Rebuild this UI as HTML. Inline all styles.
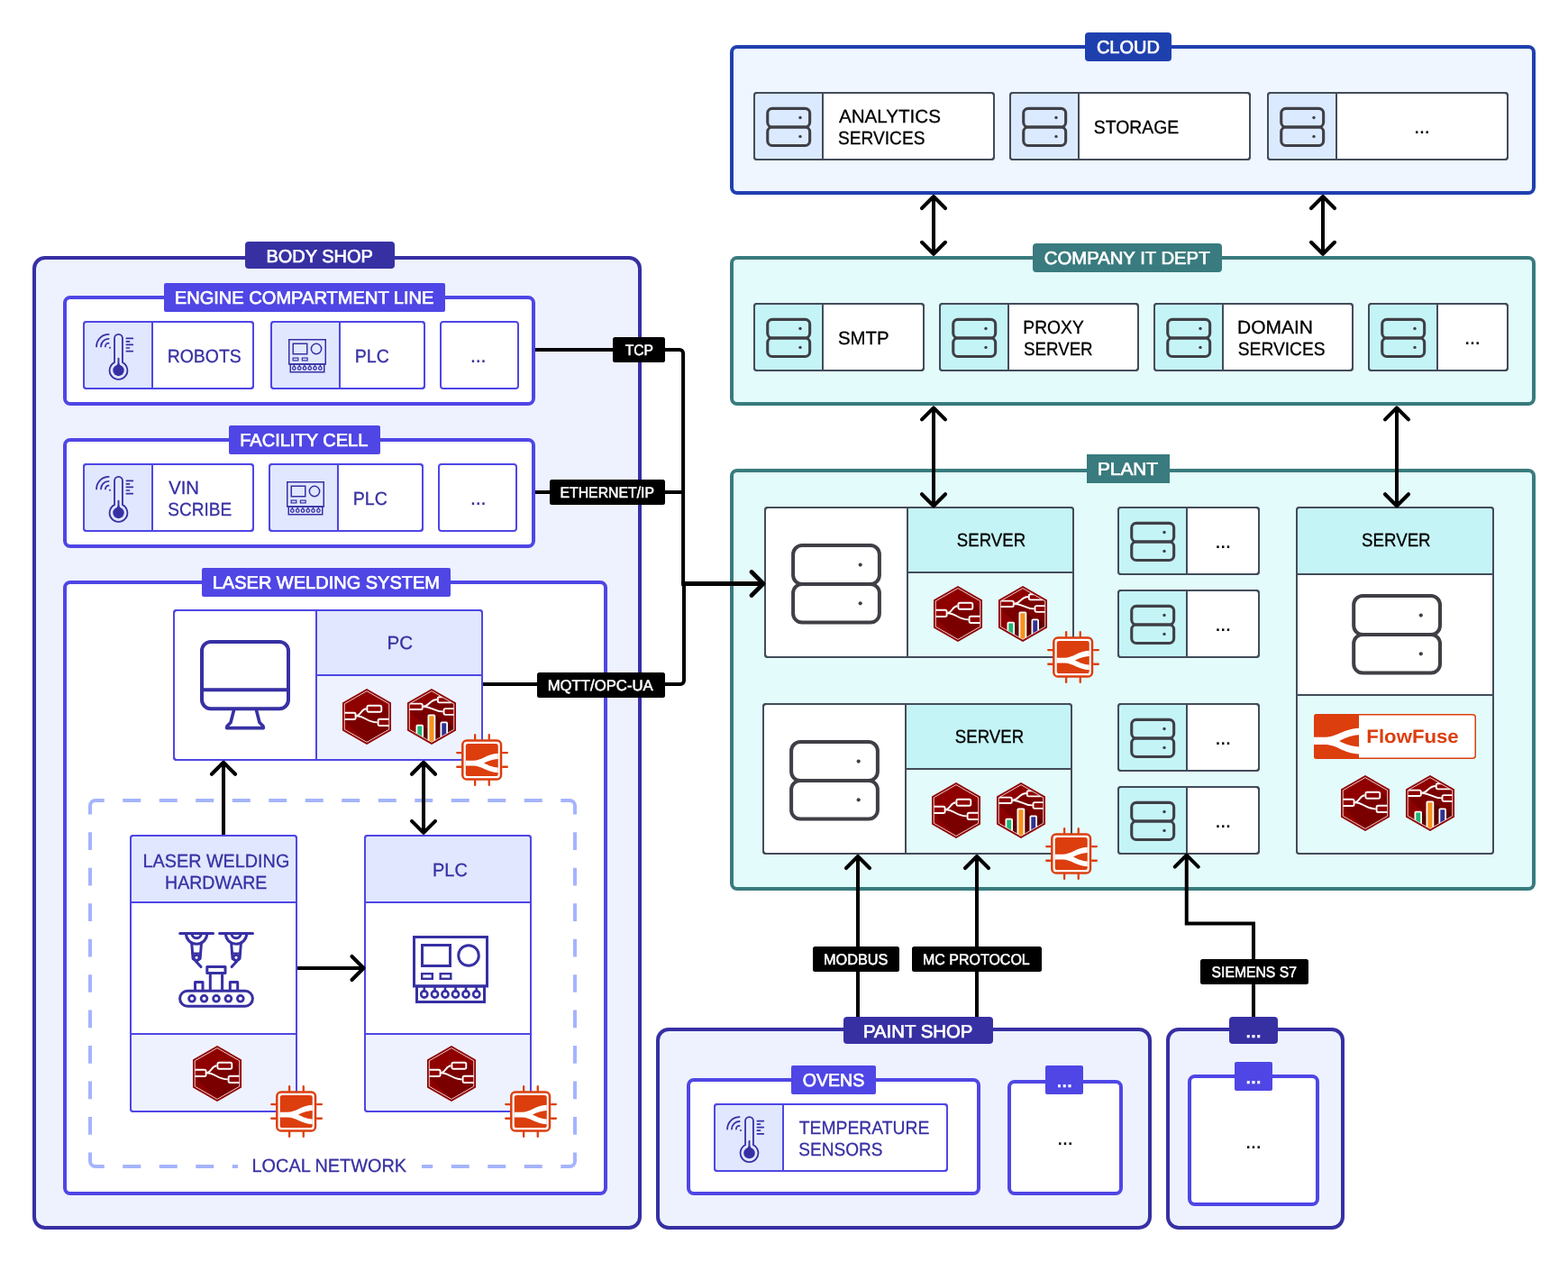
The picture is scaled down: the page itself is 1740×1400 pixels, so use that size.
<!DOCTYPE html>
<html lang="en"><head><meta charset="utf-8"><title>Factory network architecture</title>
<style>
html,body{margin:0;padding:0;background:#fff;}
body{width:1740px;height:1400px;overflow:hidden;}
svg{display:block;font-family:"Liberation Sans",sans-serif;will-change:transform;text-rendering:geometricPrecision;}
text{white-space:pre;}
</style></head><body>
<svg width="1740" height="1400" viewBox="0 0 1740 1400">
<clipPath id="hc"><polygon points="0,-28.2 24.57,-14.1 24.57,14.1 0,28.2 -24.57,14.1 -24.57,-14.1"/></clipPath>
<rect x="38" y="286" width="672" height="1076" rx="12" fill="#eef2ff" stroke="#3730a3" stroke-width="4"/>
<rect x="72" y="330" width="520" height="118" rx="6" fill="#fff" stroke="#4f46e5" stroke-width="4"/>
<rect x="93" y="357" width="188" height="74" rx="3" fill="#fff" stroke="#4f46e5" stroke-width="2"/><path d="M93,360 a3,3 0 0 1 3,-3 H169 V431 H96 a3,3 0 0 1 -3,-3 Z" fill="#e0e7ff"/><path d="M169,357 V431" stroke="#4f46e5" stroke-width="2"/><rect x="93" y="357" width="188" height="74" rx="3" fill="none" stroke="#4f46e5" stroke-width="2"/><path d="M127.05,402.11 V375.35 a4.45,4.45 0 0 1 8.9,0 V402.11 A9.9,9.9 0 1 1 127.05,402.11 Z" fill="none" stroke="#3730a3" stroke-width="1.8" stroke-linejoin="round"/><circle cx="131.5" cy="410.95" r="6.2" fill="#3730a3"/><path d="M131.5,397.8 V410.95" stroke="#3730a3" stroke-width="1.9" stroke-linecap="round"/><path d="M128.3,406.35 Q131.5,403.95 131.5,398.95 Q131.5,403.95 134.7,406.35 Z" fill="#3730a3"/><path d="M140.4,375.4 H147.3" stroke="#3730a3" stroke-width="1.7" stroke-linecap="round"/><path d="M140.4,378.9 H143.5" stroke="#3730a3" stroke-width="1.7" stroke-linecap="round"/><path d="M140.4,382.4 H147.3" stroke="#3730a3" stroke-width="1.7" stroke-linecap="round"/><path d="M140.4,386 H143.5" stroke="#3730a3" stroke-width="1.7" stroke-linecap="round"/><path d="M140.4,389.6 H147.3" stroke="#3730a3" stroke-width="1.7" stroke-linecap="round"/><path d="M107.1,384.4 A13.5,13.5 0 0 1 120.6,370.9" fill="none" stroke="#3730a3" stroke-width="1.8" stroke-linecap="round"/><path d="M112,384.4 A8.6,8.6 0 0 1 120.6,375.8" fill="none" stroke="#3730a3" stroke-width="1.8" stroke-linecap="round"/><path d="M116.9,384.4 A3.7,3.7 0 0 1 120.6,380.7" fill="none" stroke="#3730a3" stroke-width="1.8" stroke-linecap="round"/><circle cx="122" cy="385.8" r="1" fill="#3730a3"/>
<text x="185.69" y="402" font-size="20.58" textLength="82.17" lengthAdjust="spacingAndGlyphs" fill="#3730a3" stroke="#3730a3" stroke-width="0.3">ROBOTS</text>
<rect x="301" y="357" width="170" height="74" rx="3" fill="#fff" stroke="#4f46e5" stroke-width="2"/><path d="M301,360 a3,3 0 0 1 3,-3 H377 V431 H304 a3,3 0 0 1 -3,-3 Z" fill="#e0e7ff"/><path d="M377,357 V431" stroke="#4f46e5" stroke-width="2"/><rect x="301" y="357" width="170" height="74" rx="3" fill="none" stroke="#4f46e5" stroke-width="2"/><g transform="translate(320,376) scale(0.5)" fill="none" stroke="#3730a3" stroke-width="3.0"><rect x="1.5" y="1.5" width="81" height="54.5"/><rect x="10.5" y="10.5" width="31" height="23"/><circle cx="62" cy="22" r="11.3"/><rect x="10.2" y="42.2" width="11.6" height="5.6" stroke-width="2.4"/><rect x="30.7" y="42.2" width="11.6" height="5.6" stroke-width="2.4"/><rect x="4.5" y="56" width="75" height="17.5"/><circle cx="12.75" cy="65" r="3.6" stroke-width="2.6"/><path d="M12.75,57 V61.5" stroke-width="2.6"/><circle cx="24.5" cy="65" r="3.6" stroke-width="2.6"/><path d="M24.5,57 V61.5" stroke-width="2.6"/><circle cx="36" cy="65" r="3.6" stroke-width="2.6"/><path d="M36,57 V61.5" stroke-width="2.6"/><circle cx="47.5" cy="65" r="3.6" stroke-width="2.6"/><path d="M47.5,57 V61.5" stroke-width="2.6"/><circle cx="59" cy="65" r="3.6" stroke-width="2.6"/><path d="M59,57 V61.5" stroke-width="2.6"/><circle cx="70.75" cy="65" r="3.6" stroke-width="2.6"/><path d="M70.75,57 V61.5" stroke-width="2.6"/></g>
<text x="393.68" y="402" font-size="20.58" textLength="38.2" lengthAdjust="spacingAndGlyphs" fill="#3730a3" stroke="#3730a3" stroke-width="0.3">PLC</text>
<rect x="489" y="357" width="86" height="74" rx="3" fill="#fff" stroke="#4f46e5" stroke-width="2"/>
<text x="521.5" y="402" font-size="25" letter-spacing="-1.25" fill="#3730a3">...</text>
<rect x="72" y="488" width="520" height="118" rx="6" fill="#fff" stroke="#4f46e5" stroke-width="4"/>
<rect x="93" y="515" width="188" height="74" rx="3" fill="#fff" stroke="#4f46e5" stroke-width="2"/><path d="M93,518 a3,3 0 0 1 3,-3 H169 V589 H96 a3,3 0 0 1 -3,-3 Z" fill="#e0e7ff"/><path d="M169,515 V589" stroke="#4f46e5" stroke-width="2"/><rect x="93" y="515" width="188" height="74" rx="3" fill="none" stroke="#4f46e5" stroke-width="2"/><path d="M127.05,560.11 V533.35 a4.45,4.45 0 0 1 8.9,0 V560.11 A9.9,9.9 0 1 1 127.05,560.11 Z" fill="none" stroke="#3730a3" stroke-width="1.8" stroke-linejoin="round"/><circle cx="131.5" cy="568.95" r="6.2" fill="#3730a3"/><path d="M131.5,555.8 V568.95" stroke="#3730a3" stroke-width="1.9" stroke-linecap="round"/><path d="M128.3,564.35 Q131.5,561.95 131.5,556.95 Q131.5,561.95 134.7,564.35 Z" fill="#3730a3"/><path d="M140.4,533.4 H147.3" stroke="#3730a3" stroke-width="1.7" stroke-linecap="round"/><path d="M140.4,536.9 H143.5" stroke="#3730a3" stroke-width="1.7" stroke-linecap="round"/><path d="M140.4,540.4 H147.3" stroke="#3730a3" stroke-width="1.7" stroke-linecap="round"/><path d="M140.4,544 H143.5" stroke="#3730a3" stroke-width="1.7" stroke-linecap="round"/><path d="M140.4,547.6 H147.3" stroke="#3730a3" stroke-width="1.7" stroke-linecap="round"/><path d="M107.1,542.4 A13.5,13.5 0 0 1 120.6,528.9" fill="none" stroke="#3730a3" stroke-width="1.8" stroke-linecap="round"/><path d="M112,542.4 A8.6,8.6 0 0 1 120.6,533.8" fill="none" stroke="#3730a3" stroke-width="1.8" stroke-linecap="round"/><path d="M116.9,542.4 A3.7,3.7 0 0 1 120.6,538.7" fill="none" stroke="#3730a3" stroke-width="1.8" stroke-linecap="round"/><circle cx="122" cy="543.8" r="1" fill="#3730a3"/>
<text x="187.15" y="548" font-size="20.58" textLength="33.76" lengthAdjust="spacingAndGlyphs" fill="#3730a3" stroke="#3730a3" stroke-width="0.3">VIN</text>
<text x="186.29" y="572" font-size="20.58" textLength="70.86" lengthAdjust="spacingAndGlyphs" fill="#3730a3" stroke="#3730a3" stroke-width="0.3">SCRIBE</text>
<rect x="299" y="515" width="170" height="74" rx="3" fill="#fff" stroke="#4f46e5" stroke-width="2"/><path d="M299,518 a3,3 0 0 1 3,-3 H375 V589 H302 a3,3 0 0 1 -3,-3 Z" fill="#e0e7ff"/><path d="M375,515 V589" stroke="#4f46e5" stroke-width="2"/><rect x="299" y="515" width="170" height="74" rx="3" fill="none" stroke="#4f46e5" stroke-width="2"/><g transform="translate(318,534) scale(0.5)" fill="none" stroke="#3730a3" stroke-width="3.0"><rect x="1.5" y="1.5" width="81" height="54.5"/><rect x="10.5" y="10.5" width="31" height="23"/><circle cx="62" cy="22" r="11.3"/><rect x="10.2" y="42.2" width="11.6" height="5.6" stroke-width="2.4"/><rect x="30.7" y="42.2" width="11.6" height="5.6" stroke-width="2.4"/><rect x="4.5" y="56" width="75" height="17.5"/><circle cx="12.75" cy="65" r="3.6" stroke-width="2.6"/><path d="M12.75,57 V61.5" stroke-width="2.6"/><circle cx="24.5" cy="65" r="3.6" stroke-width="2.6"/><path d="M24.5,57 V61.5" stroke-width="2.6"/><circle cx="36" cy="65" r="3.6" stroke-width="2.6"/><path d="M36,57 V61.5" stroke-width="2.6"/><circle cx="47.5" cy="65" r="3.6" stroke-width="2.6"/><path d="M47.5,57 V61.5" stroke-width="2.6"/><circle cx="59" cy="65" r="3.6" stroke-width="2.6"/><path d="M59,57 V61.5" stroke-width="2.6"/><circle cx="70.75" cy="65" r="3.6" stroke-width="2.6"/><path d="M70.75,57 V61.5" stroke-width="2.6"/></g>
<text x="391.68" y="560" font-size="20.58" textLength="38.2" lengthAdjust="spacingAndGlyphs" fill="#3730a3" stroke="#3730a3" stroke-width="0.3">PLC</text>
<rect x="487" y="515" width="86" height="74" rx="3" fill="#fff" stroke="#4f46e5" stroke-width="2"/>
<text x="521.5" y="560" font-size="25" letter-spacing="-1.25" fill="#3730a3">...</text>
<rect x="72" y="646" width="600" height="678" rx="6" fill="#fff" stroke="#4f46e5" stroke-width="4"/>
<path d="M136.25,888 H156.25 M176.75,888 H196.75 M217.25,888 H237.25 M257.75,888 H277.75 M298.25,888 H318.25 M338.75,888 H358.75 M379.25,888 H399.25 M419.75,888 H439.75 M460.25,888 H480.25 M500.75,888 H520.75 M541.25,888 H561.25 M581.75,888 H601.75 M136.25,1294 H156.25 M176.75,1294 H196.75 M217.25,1294 H237.25 M257.75,1294 H277.75 M298.25,1294 H318.25 M338.75,1294 H358.75 M379.25,1294 H399.25 M419.75,1294 H439.75 M460.25,1294 H480.25 M500.75,1294 H520.75 M541.25,1294 H561.25 M581.75,1294 H601.75 M100,923.35 V943.05 M100,962.8 V982.5 M100,1002.25 V1021.95 M100,1041.7 V1061.4 M100,1081.15 V1100.85 M100,1120.6 V1140.3 M100,1160.05 V1179.75 M100,1199.5 V1219.2 M100,1238.95 V1258.65 M638,923.35 V943.05 M638,962.8 V982.5 M638,1002.25 V1021.95 M638,1041.7 V1061.4 M638,1081.15 V1100.85 M638,1120.6 V1140.3 M638,1160.05 V1179.75 M638,1199.5 V1219.2 M638,1238.95 V1258.65 M100,903.6 V894 a6,6 0 0 1 6,-6 H115.75 M622.25,888 H632 a6,6 0 0 1 6,6 V903.6 M638,1278.4 V1288 a6,6 0 0 1 -6,6 H622.25 M115.75,1294 H106 a6,6 0 0 1 -6,-6 V1278.4" fill="none" stroke="#a5b4fc" stroke-width="4"/>
<rect x="264" y="1280" width="204" height="26" rx="0" fill="#fff"/>
<text x="279.57" y="1300" font-size="20.58" textLength="171.42" lengthAdjust="spacingAndGlyphs" fill="#3730a3" stroke="#3730a3" stroke-width="0.3">LOCAL NETWORK</text>
<rect x="193" y="677" width="342" height="166" rx="3" fill="#fff" stroke="#4f46e5" stroke-width="2"/><path d="M351,677 H532 a3,3 0 0 1 3,3 V749 H351 Z" fill="#e0e7ff"/><path d="M351,749 H535 V840 a3,3 0 0 1 -3,3 H351 Z" fill="#eef2ff"/><path d="M351,677 V843 M351,749 H535" stroke="#4f46e5" stroke-width="2" fill="none"/><rect x="193" y="677" width="342" height="166" rx="3" fill="none" stroke="#4f46e5" stroke-width="2"/><g transform="translate(222,710)" fill="none" stroke="#3730a3" stroke-width="4" stroke-linejoin="round" stroke-linecap="round"><rect x="2" y="2" width="96" height="74.3" rx="10"/><path d="M2,55.3 H98" stroke-linecap="butt"/><path d="M37.4,78.3 L34,91.5 L30,95.5 L29.6,97.6 H70.4 L70,95.5 L66,91.5 L62.6,78.3" stroke-width="3.6"/></g><text x="429.5" y="720" font-size="20.58" textLength="28.61" lengthAdjust="spacingAndGlyphs" fill="#3730a3" stroke="#3730a3" stroke-width="0.3">PC</text><g transform="translate(407,795)"><polygon points="0,-31 27.01,-15.5 27.01,15.5 0,31 -27.01,15.5 -27.01,-15.5" fill="#8f0000"/><g clip-path="url(#hc)"><path d="M-25,3.8 L-11.6,3.8 L-11.6,-0.5 C-6,-2 -5,-8.6 -0.4,-8.8 L-0.4,-13 L17.2,-13 L30,-0.2 L30,31 L2.2,31 Z" fill="#7a0000"/><g fill="none" stroke="#fff" stroke-width="1.9"><path d="M-11.6,-0.8 C-6.5,-1 -6.5,-8.6 -0.4,-8.7"/><path d="M-11.6,-0.8 C-2,-0.8 0,6.4 11.8,6.4"/></g><g fill="#8f0000" stroke="#fff" stroke-width="1.9"><rect x="-30" y="-4.2" width="17.6" height="7.2" rx="1.8"/><rect x="0.4" y="-12.2" width="15.9" height="7.0" rx="1.8"/><rect x="12.6" y="2.7" width="20" height="7.3" rx="1.8"/></g></g><polygon points="0,-28.4 24.74,-14.2 24.74,14.2 0,28.4 -24.74,14.2 -24.74,-14.2" fill="none" stroke="#fff" stroke-width="0.8"/></g><g transform="translate(479,795)"><polygon points="0,-31 27.01,-15.5 27.01,15.5 0,31 -27.01,15.5 -27.01,-15.5" fill="#8f0000"/><g clip-path="url(#hc)"><path d="M-25,-6.5 L-9.4,-6.5 L-9.4,-11 C-4,-12 0,-19 6,-19 L6,-23 L30,-23 L30,31 L12,31 Z" fill="#7a0000"/><path d="M-9.5,9 L-9.5,31 L12,31 Z M4.3,-2 L4.3,31 L30,31 L30,24 Z M18,6 L18,20 L30,20 L30,18 Z" fill="#5c0000"/><g fill="none" stroke="#fff" stroke-width="1.9"><path d="M-9.4,-11.3 C-3,-11.3 -2,-19 6.2,-19"/><path d="M-9.4,-11.3 C0,-11.3 2,-5.6 12.8,-5.6"/></g><g fill="#8f0000" stroke="#fff" stroke-width="1.9"><rect x="-30" y="-14.4" width="19.8" height="6.4" rx="1.8"/><rect x="6.8" y="-21.8" width="24" height="6.2" rx="1.8"/><rect x="13.5" y="-8.9" width="20" height="6.8" rx="1.8"/></g><g stroke="#fff" stroke-width="1.8"><rect x="-16.6" y="9.7" width="6.7" height="30" rx="0.8" fill="#22b573"/><rect x="-3.6" y="-1.6" width="7.0" height="40" rx="0.8" fill="#f7931e"/><rect x="10.4" y="6.4" width="6.7" height="30" rx="0.8" fill="#2e3192"/></g></g><polygon points="0,-28.4 24.74,-14.2 24.74,14.2 0,28.4 -24.74,14.2 -24.74,-14.2" fill="none" stroke="#fff" stroke-width="0.8"/></g>
<rect x="145" y="927" width="184" height="306" rx="3" fill="#fff" stroke="#4f46e5" stroke-width="2"/><path d="M145,1001 V929 a2,2 0 0 1 2,-2 H327 a2,2 0 0 1 2,2 V1001 Z" fill="#e0e7ff"/><path d="M145,1147 V1231 a2,2 0 0 0 2,2 H327 a2,2 0 0 0 2,-2 V1147 Z" fill="#eef2ff"/><path d="M145,1001 H329 M145,1147 H329" stroke="#4f46e5" stroke-width="2"/><rect x="145" y="927" width="184" height="306" rx="3" fill="none" stroke="#4f46e5" stroke-width="2"/>
<text x="158.57" y="962" font-size="20.58" textLength="162.72" lengthAdjust="spacingAndGlyphs" fill="#3730a3" stroke="#3730a3" stroke-width="0.3">LASER WELDING</text>
<text x="183.09" y="986" font-size="20.58" textLength="113.34" lengthAdjust="spacingAndGlyphs" fill="#3730a3" stroke="#3730a3" stroke-width="0.3">HARDWARE</text>
<g transform="translate(198,1034)" fill="none" stroke="#3730a3" stroke-width="3" stroke-linecap="round" stroke-linejoin="round"><path d="M1.7,1.6 H38.5"/><path d="M8.4,1.6 A11.7,11.7 0 0 0 31.8,1.6"/><path d="M14.9,1.6 A5.2,5.2 0 0 0 25.3,1.6"/><path d="M14.7,12 L16.1,29.5 L19.8,32.2 L24.1,29.5 L25.5,12"/><path d="M15.5,23.6 H24.7" stroke-width="2.4"/><circle cx="20.1" cy="28.3" r="2.9" stroke-width="2.6"/><path d="M19.5,32.4 L25,38.6"/><path d="M45.65,1.6 H82.45"/><path d="M52.35,1.6 A11.7,11.7 0 0 0 75.75,1.6"/><path d="M58.85,1.6 A5.2,5.2 0 0 0 69.25,1.6"/><path d="M58.65,12 L60.05,29.5 L64.35,32.2 L68.05,29.5 L69.45,12"/><path d="M59.45,23.6 H68.65" stroke-width="2.4"/><circle cx="64.05" cy="28.3" r="2.9" stroke-width="2.6"/><path d="M64.65,32.4 L59.15,38.6"/><rect x="31.8" y="38.6" width="20.2" height="6.8"/><path d="M35.3,45.4 V64 M48.6,45.4 V64"/><path d="M18.5,64 V55.5 H27 V64 M57.3,64 V55.5 H65.7 V64"/><rect x="1.6" y="65.3" width="80.8" height="17" rx="8.5"/><circle cx="15" cy="73.8" r="3.4" stroke-width="2.8"/><circle cx="28.5" cy="73.8" r="3.4" stroke-width="2.8"/><circle cx="42" cy="73.8" r="3.4" stroke-width="2.8"/><circle cx="55.4" cy="73.8" r="3.4" stroke-width="2.8"/><circle cx="68.8" cy="73.8" r="3.4" stroke-width="2.8"/></g>
<g transform="translate(241,1191)"><polygon points="0,-31 27.01,-15.5 27.01,15.5 0,31 -27.01,15.5 -27.01,-15.5" fill="#8f0000"/><g clip-path="url(#hc)"><path d="M-25,3.8 L-11.6,3.8 L-11.6,-0.5 C-6,-2 -5,-8.6 -0.4,-8.8 L-0.4,-13 L17.2,-13 L30,-0.2 L30,31 L2.2,31 Z" fill="#7a0000"/><g fill="none" stroke="#fff" stroke-width="1.9"><path d="M-11.6,-0.8 C-6.5,-1 -6.5,-8.6 -0.4,-8.7"/><path d="M-11.6,-0.8 C-2,-0.8 0,6.4 11.8,6.4"/></g><g fill="#8f0000" stroke="#fff" stroke-width="1.9"><rect x="-30" y="-4.2" width="17.6" height="7.2" rx="1.8"/><rect x="0.4" y="-12.2" width="15.9" height="7.0" rx="1.8"/><rect x="12.6" y="2.7" width="20" height="7.3" rx="1.8"/></g></g><polygon points="0,-28.4 24.74,-14.2 24.74,14.2 0,28.4 -24.74,14.2 -24.74,-14.2" fill="none" stroke="#fff" stroke-width="0.8"/></g>
<rect x="405" y="927" width="184" height="306" rx="3" fill="#fff" stroke="#4f46e5" stroke-width="2"/><path d="M405,1001 V929 a2,2 0 0 1 2,-2 H587 a2,2 0 0 1 2,2 V1001 Z" fill="#e0e7ff"/><path d="M405,1147 V1231 a2,2 0 0 0 2,2 H587 a2,2 0 0 0 2,-2 V1147 Z" fill="#eef2ff"/><path d="M405,1001 H589 M405,1147 H589" stroke="#4f46e5" stroke-width="2"/><rect x="405" y="927" width="184" height="306" rx="3" fill="none" stroke="#4f46e5" stroke-width="2"/>
<text x="480.05" y="972" font-size="20.58" textLength="38.79" lengthAdjust="spacingAndGlyphs" fill="#3730a3" stroke="#3730a3" stroke-width="0.3">PLC</text>
<g transform="translate(458,1038) scale(1)" fill="none" stroke="#3730a3" stroke-width="3.0"><rect x="1.5" y="1.5" width="81" height="54.5"/><rect x="10.5" y="10.5" width="31" height="23"/><circle cx="62" cy="22" r="11.3"/><rect x="10.2" y="42.2" width="11.6" height="5.6" stroke-width="2.4"/><rect x="30.7" y="42.2" width="11.6" height="5.6" stroke-width="2.4"/><rect x="4.5" y="56" width="75" height="17.5"/><circle cx="12.75" cy="65" r="3.6" stroke-width="2.6"/><path d="M12.75,57 V61.5" stroke-width="2.6"/><circle cx="24.5" cy="65" r="3.6" stroke-width="2.6"/><path d="M24.5,57 V61.5" stroke-width="2.6"/><circle cx="36" cy="65" r="3.6" stroke-width="2.6"/><path d="M36,57 V61.5" stroke-width="2.6"/><circle cx="47.5" cy="65" r="3.6" stroke-width="2.6"/><path d="M47.5,57 V61.5" stroke-width="2.6"/><circle cx="59" cy="65" r="3.6" stroke-width="2.6"/><path d="M59,57 V61.5" stroke-width="2.6"/><circle cx="70.75" cy="65" r="3.6" stroke-width="2.6"/><path d="M70.75,57 V61.5" stroke-width="2.6"/></g>
<g transform="translate(501,1191)"><polygon points="0,-31 27.01,-15.5 27.01,15.5 0,31 -27.01,15.5 -27.01,-15.5" fill="#8f0000"/><g clip-path="url(#hc)"><path d="M-25,3.8 L-11.6,3.8 L-11.6,-0.5 C-6,-2 -5,-8.6 -0.4,-8.8 L-0.4,-13 L17.2,-13 L30,-0.2 L30,31 L2.2,31 Z" fill="#7a0000"/><g fill="none" stroke="#fff" stroke-width="1.9"><path d="M-11.6,-0.8 C-6.5,-1 -6.5,-8.6 -0.4,-8.7"/><path d="M-11.6,-0.8 C-2,-0.8 0,6.4 11.8,6.4"/></g><g fill="#8f0000" stroke="#fff" stroke-width="1.9"><rect x="-30" y="-4.2" width="17.6" height="7.2" rx="1.8"/><rect x="0.4" y="-12.2" width="15.9" height="7.0" rx="1.8"/><rect x="12.6" y="2.7" width="20" height="7.3" rx="1.8"/></g></g><polygon points="0,-28.4 24.74,-14.2 24.74,14.2 0,28.4 -24.74,14.2 -24.74,-14.2" fill="none" stroke="#fff" stroke-width="0.8"/></g>
<rect x="812" y="52" width="890" height="162" rx="6" fill="#eff6ff" stroke="#1e40af" stroke-width="4"/>
<rect x="837" y="103" width="266" height="74" rx="3" fill="#fff" stroke="#434c5a" stroke-width="2"/><path d="M837,106 a3,3 0 0 1 3,-3 H913 V177 H840 a3,3 0 0 1 -3,-3 Z" fill="#dbeafe"/><path d="M913,103 V177" stroke="#434c5a" stroke-width="2"/><rect x="837" y="103" width="266" height="74" rx="3" fill="none" stroke="#434c5a" stroke-width="2"/><g fill="none" stroke="#3f3f46" stroke-width="3.1"><rect x="851.75" y="120.35" width="46.9" height="20.6" rx="5.2"/><rect x="851.75" y="140.95" width="46.9" height="20.5" rx="5.2"/></g><circle cx="888" cy="130.5" r="1.7" fill="#3f3f46"/><circle cx="888" cy="151.4" r="1.7" fill="#3f3f46"/>
<rect x="1121" y="103" width="266" height="74" rx="3" fill="#fff" stroke="#434c5a" stroke-width="2"/><path d="M1121,106 a3,3 0 0 1 3,-3 H1197 V177 H1124 a3,3 0 0 1 -3,-3 Z" fill="#dbeafe"/><path d="M1197,103 V177" stroke="#434c5a" stroke-width="2"/><rect x="1121" y="103" width="266" height="74" rx="3" fill="none" stroke="#434c5a" stroke-width="2"/><g fill="none" stroke="#3f3f46" stroke-width="3.1"><rect x="1135.75" y="120.35" width="46.9" height="20.6" rx="5.2"/><rect x="1135.75" y="140.95" width="46.9" height="20.5" rx="5.2"/></g><circle cx="1172" cy="130.5" r="1.7" fill="#3f3f46"/><circle cx="1172" cy="151.4" r="1.7" fill="#3f3f46"/>
<rect x="1407" y="103" width="266" height="74" rx="3" fill="#fff" stroke="#434c5a" stroke-width="2"/><path d="M1407,106 a3,3 0 0 1 3,-3 H1483 V177 H1410 a3,3 0 0 1 -3,-3 Z" fill="#dbeafe"/><path d="M1483,103 V177" stroke="#434c5a" stroke-width="2"/><rect x="1407" y="103" width="266" height="74" rx="3" fill="none" stroke="#434c5a" stroke-width="2"/><g fill="none" stroke="#3f3f46" stroke-width="3.1"><rect x="1421.75" y="120.35" width="46.9" height="20.6" rx="5.2"/><rect x="1421.75" y="140.95" width="46.9" height="20.5" rx="5.2"/></g><circle cx="1458" cy="130.5" r="1.7" fill="#3f3f46"/><circle cx="1458" cy="151.4" r="1.7" fill="#3f3f46"/>
<text x="930.9" y="136" font-size="20.58" textLength="113.07" lengthAdjust="spacingAndGlyphs" fill="#000" stroke="#000" stroke-width="0.3">ANALYTICS</text>
<text x="930.04" y="160" font-size="20.58" textLength="96.36" lengthAdjust="spacingAndGlyphs" fill="#000" stroke="#000" stroke-width="0.3">SERVICES</text>
<text x="1213.78" y="148" font-size="20.58" textLength="94.39" lengthAdjust="spacingAndGlyphs" fill="#000" stroke="#000" stroke-width="0.3">STORAGE</text>
<text x="1568.8" y="148" font-size="25" letter-spacing="-1.25" fill="#000">...</text>
<rect x="812" y="286" width="890" height="162" rx="6" fill="#e4fbfc" stroke="#397b7e" stroke-width="4"/>
<rect x="837" y="337" width="188" height="74" rx="3" fill="#fff" stroke="#434c5a" stroke-width="2"/><path d="M837,340 a3,3 0 0 1 3,-3 H913 V411 H840 a3,3 0 0 1 -3,-3 Z" fill="#c5f4f6"/><path d="M913,337 V411" stroke="#434c5a" stroke-width="2"/><rect x="837" y="337" width="188" height="74" rx="3" fill="none" stroke="#434c5a" stroke-width="2"/><g fill="none" stroke="#3f3f46" stroke-width="3.1"><rect x="851.75" y="354.35" width="46.9" height="20.6" rx="5.2"/><rect x="851.75" y="374.95" width="46.9" height="20.5" rx="5.2"/></g><circle cx="888" cy="364.5" r="1.7" fill="#3f3f46"/><circle cx="888" cy="385.4" r="1.7" fill="#3f3f46"/>
<rect x="1043" y="337" width="220" height="74" rx="3" fill="#fff" stroke="#434c5a" stroke-width="2"/><path d="M1043,340 a3,3 0 0 1 3,-3 H1119 V411 H1046 a3,3 0 0 1 -3,-3 Z" fill="#c5f4f6"/><path d="M1119,337 V411" stroke="#434c5a" stroke-width="2"/><rect x="1043" y="337" width="220" height="74" rx="3" fill="none" stroke="#434c5a" stroke-width="2"/><g fill="none" stroke="#3f3f46" stroke-width="3.1"><rect x="1057.75" y="354.35" width="46.9" height="20.6" rx="5.2"/><rect x="1057.75" y="374.95" width="46.9" height="20.5" rx="5.2"/></g><circle cx="1094" cy="364.5" r="1.7" fill="#3f3f46"/><circle cx="1094" cy="385.4" r="1.7" fill="#3f3f46"/>
<rect x="1281" y="337" width="220" height="74" rx="3" fill="#fff" stroke="#434c5a" stroke-width="2"/><path d="M1281,340 a3,3 0 0 1 3,-3 H1357 V411 H1284 a3,3 0 0 1 -3,-3 Z" fill="#c5f4f6"/><path d="M1357,337 V411" stroke="#434c5a" stroke-width="2"/><rect x="1281" y="337" width="220" height="74" rx="3" fill="none" stroke="#434c5a" stroke-width="2"/><g fill="none" stroke="#3f3f46" stroke-width="3.1"><rect x="1295.75" y="354.35" width="46.9" height="20.6" rx="5.2"/><rect x="1295.75" y="374.95" width="46.9" height="20.5" rx="5.2"/></g><circle cx="1332" cy="364.5" r="1.7" fill="#3f3f46"/><circle cx="1332" cy="385.4" r="1.7" fill="#3f3f46"/>
<rect x="1519" y="337" width="154" height="74" rx="3" fill="#fff" stroke="#434c5a" stroke-width="2"/><path d="M1519,340 a3,3 0 0 1 3,-3 H1595 V411 H1522 a3,3 0 0 1 -3,-3 Z" fill="#c5f4f6"/><path d="M1595,337 V411" stroke="#434c5a" stroke-width="2"/><rect x="1519" y="337" width="154" height="74" rx="3" fill="none" stroke="#434c5a" stroke-width="2"/><g fill="none" stroke="#3f3f46" stroke-width="3.1"><rect x="1533.75" y="354.35" width="46.9" height="20.6" rx="5.2"/><rect x="1533.75" y="374.95" width="46.9" height="20.5" rx="5.2"/></g><circle cx="1570" cy="364.5" r="1.7" fill="#3f3f46"/><circle cx="1570" cy="385.4" r="1.7" fill="#3f3f46"/>
<text x="929.98" y="382" font-size="20.58" textLength="56.68" lengthAdjust="spacingAndGlyphs" fill="#000" stroke="#000" stroke-width="0.3">SMTP</text>
<text x="1135.36" y="370" font-size="20.58" textLength="67.41" lengthAdjust="spacingAndGlyphs" fill="#000" stroke="#000" stroke-width="0.3">PROXY</text>
<text x="1136.06" y="394" font-size="20.58" textLength="76.58" lengthAdjust="spacingAndGlyphs" fill="#000" stroke="#000" stroke-width="0.3">SERVER</text>
<text x="1372.97" y="370" font-size="20.58" textLength="84" lengthAdjust="spacingAndGlyphs" fill="#000" stroke="#000" stroke-width="0.3">DOMAIN</text>
<text x="1373.78" y="394" font-size="20.58" textLength="96.87" lengthAdjust="spacingAndGlyphs" fill="#000" stroke="#000" stroke-width="0.3">SERVICES</text>
<text x="1624.8" y="382" font-size="25" letter-spacing="-1.25" fill="#000">...</text>
<rect x="812" y="522" width="890" height="464" rx="6" fill="#e4fbfc" stroke="#397b7e" stroke-width="4"/>
<rect x="849" y="563" width="342" height="166" rx="3" fill="#fff" stroke="#434c5a" stroke-width="2"/><path d="M1007,563 H1188 a3,3 0 0 1 3,3 V635 H1007 Z" fill="#c5f4f6"/><path d="M1007,635 H1191 V726 a3,3 0 0 1 -3,3 H1007 Z" fill="#e4fbfc"/><path d="M1007,563 V729 M1007,635 H1191" stroke="#434c5a" stroke-width="2" fill="none"/><rect x="849" y="563" width="342" height="166" rx="3" fill="none" stroke="#434c5a" stroke-width="2"/><g fill="none" stroke="#3f3f46" stroke-width="4"><rect x="880.1" y="605.1" width="95.8" height="42.9" rx="10"/><rect x="880.1" y="648" width="95.8" height="42.6" rx="10"/></g><circle cx="954.7" cy="626.6" r="2.1" fill="#3f3f46"/><circle cx="954.7" cy="669.3" r="2.1" fill="#3f3f46"/><text x="1061.81" y="606" font-size="20.58" textLength="76.32" lengthAdjust="spacingAndGlyphs" fill="#000" stroke="#000" stroke-width="0.3">SERVER</text><g transform="translate(1063,681)"><polygon points="0,-31 27.01,-15.5 27.01,15.5 0,31 -27.01,15.5 -27.01,-15.5" fill="#8f0000"/><g clip-path="url(#hc)"><path d="M-25,3.8 L-11.6,3.8 L-11.6,-0.5 C-6,-2 -5,-8.6 -0.4,-8.8 L-0.4,-13 L17.2,-13 L30,-0.2 L30,31 L2.2,31 Z" fill="#7a0000"/><g fill="none" stroke="#fff" stroke-width="1.9"><path d="M-11.6,-0.8 C-6.5,-1 -6.5,-8.6 -0.4,-8.7"/><path d="M-11.6,-0.8 C-2,-0.8 0,6.4 11.8,6.4"/></g><g fill="#8f0000" stroke="#fff" stroke-width="1.9"><rect x="-30" y="-4.2" width="17.6" height="7.2" rx="1.8"/><rect x="0.4" y="-12.2" width="15.9" height="7.0" rx="1.8"/><rect x="12.6" y="2.7" width="20" height="7.3" rx="1.8"/></g></g><polygon points="0,-28.4 24.74,-14.2 24.74,14.2 0,28.4 -24.74,14.2 -24.74,-14.2" fill="none" stroke="#fff" stroke-width="0.8"/></g><g transform="translate(1135,681)"><polygon points="0,-31 27.01,-15.5 27.01,15.5 0,31 -27.01,15.5 -27.01,-15.5" fill="#8f0000"/><g clip-path="url(#hc)"><path d="M-25,-6.5 L-9.4,-6.5 L-9.4,-11 C-4,-12 0,-19 6,-19 L6,-23 L30,-23 L30,31 L12,31 Z" fill="#7a0000"/><path d="M-9.5,9 L-9.5,31 L12,31 Z M4.3,-2 L4.3,31 L30,31 L30,24 Z M18,6 L18,20 L30,20 L30,18 Z" fill="#5c0000"/><g fill="none" stroke="#fff" stroke-width="1.9"><path d="M-9.4,-11.3 C-3,-11.3 -2,-19 6.2,-19"/><path d="M-9.4,-11.3 C0,-11.3 2,-5.6 12.8,-5.6"/></g><g fill="#8f0000" stroke="#fff" stroke-width="1.9"><rect x="-30" y="-14.4" width="19.8" height="6.4" rx="1.8"/><rect x="6.8" y="-21.8" width="24" height="6.2" rx="1.8"/><rect x="13.5" y="-8.9" width="20" height="6.8" rx="1.8"/></g><g stroke="#fff" stroke-width="1.8"><rect x="-16.6" y="9.7" width="6.7" height="30" rx="0.8" fill="#22b573"/><rect x="-3.6" y="-1.6" width="7.0" height="40" rx="0.8" fill="#f7931e"/><rect x="10.4" y="6.4" width="6.7" height="30" rx="0.8" fill="#2e3192"/></g></g><polygon points="0,-28.4 24.74,-14.2 24.74,14.2 0,28.4 -24.74,14.2 -24.74,-14.2" fill="none" stroke="#fff" stroke-width="0.8"/></g>
<rect x="847" y="781" width="342" height="166" rx="3" fill="#fff" stroke="#434c5a" stroke-width="2"/><path d="M1005,781 H1186 a3,3 0 0 1 3,3 V853 H1005 Z" fill="#c5f4f6"/><path d="M1005,853 H1189 V944 a3,3 0 0 1 -3,3 H1005 Z" fill="#e4fbfc"/><path d="M1005,781 V947 M1005,853 H1189" stroke="#434c5a" stroke-width="2" fill="none"/><rect x="847" y="781" width="342" height="166" rx="3" fill="none" stroke="#434c5a" stroke-width="2"/><g fill="none" stroke="#3f3f46" stroke-width="4"><rect x="878.1" y="823.1" width="95.8" height="42.9" rx="10"/><rect x="878.1" y="866" width="95.8" height="42.6" rx="10"/></g><circle cx="952.7" cy="844.6" r="2.1" fill="#3f3f46"/><circle cx="952.7" cy="887.3" r="2.1" fill="#3f3f46"/><text x="1059.81" y="824" font-size="20.58" textLength="76.32" lengthAdjust="spacingAndGlyphs" fill="#000" stroke="#000" stroke-width="0.3">SERVER</text><g transform="translate(1061,899)"><polygon points="0,-31 27.01,-15.5 27.01,15.5 0,31 -27.01,15.5 -27.01,-15.5" fill="#8f0000"/><g clip-path="url(#hc)"><path d="M-25,3.8 L-11.6,3.8 L-11.6,-0.5 C-6,-2 -5,-8.6 -0.4,-8.8 L-0.4,-13 L17.2,-13 L30,-0.2 L30,31 L2.2,31 Z" fill="#7a0000"/><g fill="none" stroke="#fff" stroke-width="1.9"><path d="M-11.6,-0.8 C-6.5,-1 -6.5,-8.6 -0.4,-8.7"/><path d="M-11.6,-0.8 C-2,-0.8 0,6.4 11.8,6.4"/></g><g fill="#8f0000" stroke="#fff" stroke-width="1.9"><rect x="-30" y="-4.2" width="17.6" height="7.2" rx="1.8"/><rect x="0.4" y="-12.2" width="15.9" height="7.0" rx="1.8"/><rect x="12.6" y="2.7" width="20" height="7.3" rx="1.8"/></g></g><polygon points="0,-28.4 24.74,-14.2 24.74,14.2 0,28.4 -24.74,14.2 -24.74,-14.2" fill="none" stroke="#fff" stroke-width="0.8"/></g><g transform="translate(1133,899)"><polygon points="0,-31 27.01,-15.5 27.01,15.5 0,31 -27.01,15.5 -27.01,-15.5" fill="#8f0000"/><g clip-path="url(#hc)"><path d="M-25,-6.5 L-9.4,-6.5 L-9.4,-11 C-4,-12 0,-19 6,-19 L6,-23 L30,-23 L30,31 L12,31 Z" fill="#7a0000"/><path d="M-9.5,9 L-9.5,31 L12,31 Z M4.3,-2 L4.3,31 L30,31 L30,24 Z M18,6 L18,20 L30,20 L30,18 Z" fill="#5c0000"/><g fill="none" stroke="#fff" stroke-width="1.9"><path d="M-9.4,-11.3 C-3,-11.3 -2,-19 6.2,-19"/><path d="M-9.4,-11.3 C0,-11.3 2,-5.6 12.8,-5.6"/></g><g fill="#8f0000" stroke="#fff" stroke-width="1.9"><rect x="-30" y="-14.4" width="19.8" height="6.4" rx="1.8"/><rect x="6.8" y="-21.8" width="24" height="6.2" rx="1.8"/><rect x="13.5" y="-8.9" width="20" height="6.8" rx="1.8"/></g><g stroke="#fff" stroke-width="1.8"><rect x="-16.6" y="9.7" width="6.7" height="30" rx="0.8" fill="#22b573"/><rect x="-3.6" y="-1.6" width="7.0" height="40" rx="0.8" fill="#f7931e"/><rect x="10.4" y="6.4" width="6.7" height="30" rx="0.8" fill="#2e3192"/></g></g><polygon points="0,-28.4 24.74,-14.2 24.74,14.2 0,28.4 -24.74,14.2 -24.74,-14.2" fill="none" stroke="#fff" stroke-width="0.8"/></g>
<rect x="1241" y="563" width="156" height="74" rx="3" fill="#fff" stroke="#434c5a" stroke-width="2"/><path d="M1241,566 a3,3 0 0 1 3,-3 H1317 V637 H1244 a3,3 0 0 1 -3,-3 Z" fill="#c5f4f6"/><path d="M1317,563 V637" stroke="#434c5a" stroke-width="2"/><rect x="1241" y="563" width="156" height="74" rx="3" fill="none" stroke="#434c5a" stroke-width="2"/><g fill="none" stroke="#3f3f46" stroke-width="3.1"><rect x="1255.75" y="580.35" width="46.9" height="20.6" rx="5.2"/><rect x="1255.75" y="600.95" width="46.9" height="20.5" rx="5.2"/></g><circle cx="1292" cy="590.5" r="1.7" fill="#3f3f46"/><circle cx="1292" cy="611.4" r="1.7" fill="#3f3f46"/>
<text x="1348.1" y="608" font-size="25" letter-spacing="-1.25" fill="#000">...</text>
<rect x="1241" y="655" width="156" height="74" rx="3" fill="#fff" stroke="#434c5a" stroke-width="2"/><path d="M1241,658 a3,3 0 0 1 3,-3 H1317 V729 H1244 a3,3 0 0 1 -3,-3 Z" fill="#c5f4f6"/><path d="M1317,655 V729" stroke="#434c5a" stroke-width="2"/><rect x="1241" y="655" width="156" height="74" rx="3" fill="none" stroke="#434c5a" stroke-width="2"/><g fill="none" stroke="#3f3f46" stroke-width="3.1"><rect x="1255.75" y="672.35" width="46.9" height="20.6" rx="5.2"/><rect x="1255.75" y="692.95" width="46.9" height="20.5" rx="5.2"/></g><circle cx="1292" cy="682.5" r="1.7" fill="#3f3f46"/><circle cx="1292" cy="703.4" r="1.7" fill="#3f3f46"/>
<text x="1348.1" y="700" font-size="25" letter-spacing="-1.25" fill="#000">...</text>
<rect x="1241" y="781" width="156" height="74" rx="3" fill="#fff" stroke="#434c5a" stroke-width="2"/><path d="M1241,784 a3,3 0 0 1 3,-3 H1317 V855 H1244 a3,3 0 0 1 -3,-3 Z" fill="#c5f4f6"/><path d="M1317,781 V855" stroke="#434c5a" stroke-width="2"/><rect x="1241" y="781" width="156" height="74" rx="3" fill="none" stroke="#434c5a" stroke-width="2"/><g fill="none" stroke="#3f3f46" stroke-width="3.1"><rect x="1255.75" y="798.35" width="46.9" height="20.6" rx="5.2"/><rect x="1255.75" y="818.95" width="46.9" height="20.5" rx="5.2"/></g><circle cx="1292" cy="808.5" r="1.7" fill="#3f3f46"/><circle cx="1292" cy="829.4" r="1.7" fill="#3f3f46"/>
<text x="1348.1" y="826" font-size="25" letter-spacing="-1.25" fill="#000">...</text>
<rect x="1241" y="873" width="156" height="74" rx="3" fill="#fff" stroke="#434c5a" stroke-width="2"/><path d="M1241,876 a3,3 0 0 1 3,-3 H1317 V947 H1244 a3,3 0 0 1 -3,-3 Z" fill="#c5f4f6"/><path d="M1317,873 V947" stroke="#434c5a" stroke-width="2"/><rect x="1241" y="873" width="156" height="74" rx="3" fill="none" stroke="#434c5a" stroke-width="2"/><g fill="none" stroke="#3f3f46" stroke-width="3.1"><rect x="1255.75" y="890.35" width="46.9" height="20.6" rx="5.2"/><rect x="1255.75" y="910.95" width="46.9" height="20.5" rx="5.2"/></g><circle cx="1292" cy="900.5" r="1.7" fill="#3f3f46"/><circle cx="1292" cy="921.4" r="1.7" fill="#3f3f46"/>
<text x="1348.1" y="918" font-size="25" letter-spacing="-1.25" fill="#000">...</text>
<rect x="1439" y="563" width="218" height="384" rx="3" fill="#fff" stroke="#434c5a" stroke-width="2"/><path d="M1439,637 V565 a2,2 0 0 1 2,-2 H1655 a2,2 0 0 1 2,2 V637 Z" fill="#c5f4f6"/><path d="M1439,771 V945 a2,2 0 0 0 2,2 H1655 a2,2 0 0 0 2,-2 V771 Z" fill="#e4fbfc"/><path d="M1439,637 H1657 M1439,771 H1657" stroke="#434c5a" stroke-width="2"/><rect x="1439" y="563" width="218" height="384" rx="3" fill="none" stroke="#434c5a" stroke-width="2"/>
<text x="1511.06" y="606" font-size="20.58" textLength="76.58" lengthAdjust="spacingAndGlyphs" fill="#000" stroke="#000" stroke-width="0.3">SERVER</text>
<g fill="none" stroke="#3f3f46" stroke-width="4"><rect x="1502.2" y="661.1" width="95.8" height="42.9" rx="10"/><rect x="1502.2" y="704" width="95.8" height="42.6" rx="10"/></g><circle cx="1576.8" cy="682.6" r="2.1" fill="#3f3f46"/><circle cx="1576.8" cy="725.3" r="2.1" fill="#3f3f46"/>
<rect x="1458.75" y="792.75" width="178.5" height="48.5" rx="3" fill="#fff" stroke="#dc3e0e" stroke-width="1.5"/><path d="M1461,792 H1508 V842 H1461 a3,3 0 0 1 -3,-3 V795 a3,3 0 0 1 3,-3 Z" fill="#dc3e0e"/><path transform="translate(1458,792)" d="M0,25.7 L12,25.7 C26,25.7 32,16.5 50,15.7 L50,23.2 C40,23.8 33,27.5 28,30.1 C33,32.7 40,36 50,36.4 L50,44.5 C32,43.8 26,34.1 12,34.1 L0,34.1 Z" fill="#fff"/><text x="1516.36" y="824" font-size="21.01" textLength="102.33" lengthAdjust="spacingAndGlyphs" fill="#dc3e0e" font-weight="700">FlowFuse</text>
<g transform="translate(1515,891)"><polygon points="0,-31 27.01,-15.5 27.01,15.5 0,31 -27.01,15.5 -27.01,-15.5" fill="#8f0000"/><g clip-path="url(#hc)"><path d="M-25,3.8 L-11.6,3.8 L-11.6,-0.5 C-6,-2 -5,-8.6 -0.4,-8.8 L-0.4,-13 L17.2,-13 L30,-0.2 L30,31 L2.2,31 Z" fill="#7a0000"/><g fill="none" stroke="#fff" stroke-width="1.9"><path d="M-11.6,-0.8 C-6.5,-1 -6.5,-8.6 -0.4,-8.7"/><path d="M-11.6,-0.8 C-2,-0.8 0,6.4 11.8,6.4"/></g><g fill="#8f0000" stroke="#fff" stroke-width="1.9"><rect x="-30" y="-4.2" width="17.6" height="7.2" rx="1.8"/><rect x="0.4" y="-12.2" width="15.9" height="7.0" rx="1.8"/><rect x="12.6" y="2.7" width="20" height="7.3" rx="1.8"/></g></g><polygon points="0,-28.4 24.74,-14.2 24.74,14.2 0,28.4 -24.74,14.2 -24.74,-14.2" fill="none" stroke="#fff" stroke-width="0.8"/></g>
<g transform="translate(1587,891)"><polygon points="0,-31 27.01,-15.5 27.01,15.5 0,31 -27.01,15.5 -27.01,-15.5" fill="#8f0000"/><g clip-path="url(#hc)"><path d="M-25,-6.5 L-9.4,-6.5 L-9.4,-11 C-4,-12 0,-19 6,-19 L6,-23 L30,-23 L30,31 L12,31 Z" fill="#7a0000"/><path d="M-9.5,9 L-9.5,31 L12,31 Z M4.3,-2 L4.3,31 L30,31 L30,24 Z M18,6 L18,20 L30,20 L30,18 Z" fill="#5c0000"/><g fill="none" stroke="#fff" stroke-width="1.9"><path d="M-9.4,-11.3 C-3,-11.3 -2,-19 6.2,-19"/><path d="M-9.4,-11.3 C0,-11.3 2,-5.6 12.8,-5.6"/></g><g fill="#8f0000" stroke="#fff" stroke-width="1.9"><rect x="-30" y="-14.4" width="19.8" height="6.4" rx="1.8"/><rect x="6.8" y="-21.8" width="24" height="6.2" rx="1.8"/><rect x="13.5" y="-8.9" width="20" height="6.8" rx="1.8"/></g><g stroke="#fff" stroke-width="1.8"><rect x="-16.6" y="9.7" width="6.7" height="30" rx="0.8" fill="#22b573"/><rect x="-3.6" y="-1.6" width="7.0" height="40" rx="0.8" fill="#f7931e"/><rect x="10.4" y="6.4" width="6.7" height="30" rx="0.8" fill="#2e3192"/></g></g><polygon points="0,-28.4 24.74,-14.2 24.74,14.2 0,28.4 -24.74,14.2 -24.74,-14.2" fill="none" stroke="#fff" stroke-width="0.8"/></g>
<rect x="730" y="1142" width="546" height="220" rx="12" fill="#eef2ff" stroke="#3730a3" stroke-width="4"/>
<rect x="764" y="1198" width="322" height="126" rx="6" fill="#fff" stroke="#4f46e5" stroke-width="4"/>
<rect x="793" y="1225" width="258" height="74" rx="3" fill="#fff" stroke="#4f46e5" stroke-width="2"/><path d="M793,1228 a3,3 0 0 1 3,-3 H869 V1299 H796 a3,3 0 0 1 -3,-3 Z" fill="#e0e7ff"/><path d="M869,1225 V1299" stroke="#4f46e5" stroke-width="2"/><rect x="793" y="1225" width="258" height="74" rx="3" fill="none" stroke="#4f46e5" stroke-width="2"/><path d="M827.05,1270.31 V1243.55 a4.45,4.45 0 0 1 8.9,0 V1270.31 A9.9,9.9 0 1 1 827.05,1270.31 Z" fill="none" stroke="#3730a3" stroke-width="1.8" stroke-linejoin="round"/><circle cx="831.5" cy="1279.15" r="6.2" fill="#3730a3"/><path d="M831.5,1266 V1279.15" stroke="#3730a3" stroke-width="1.9" stroke-linecap="round"/><path d="M828.3,1274.55 Q831.5,1272.15 831.5,1267.15 Q831.5,1272.15 834.7,1274.55 Z" fill="#3730a3"/><path d="M840.4,1243.6 H847.3" stroke="#3730a3" stroke-width="1.7" stroke-linecap="round"/><path d="M840.4,1247.1 H843.5" stroke="#3730a3" stroke-width="1.7" stroke-linecap="round"/><path d="M840.4,1250.6 H847.3" stroke="#3730a3" stroke-width="1.7" stroke-linecap="round"/><path d="M840.4,1254.2 H843.5" stroke="#3730a3" stroke-width="1.7" stroke-linecap="round"/><path d="M840.4,1257.8 H847.3" stroke="#3730a3" stroke-width="1.7" stroke-linecap="round"/><path d="M807.1,1252.6 A13.5,13.5 0 0 1 820.6,1239.1" fill="none" stroke="#3730a3" stroke-width="1.8" stroke-linecap="round"/><path d="M812,1252.6 A8.6,8.6 0 0 1 820.6,1244" fill="none" stroke="#3730a3" stroke-width="1.8" stroke-linecap="round"/><path d="M816.9,1252.6 A3.7,3.7 0 0 1 820.6,1248.9" fill="none" stroke="#3730a3" stroke-width="1.8" stroke-linecap="round"/><circle cx="822" cy="1254" r="1" fill="#3730a3"/>
<text x="886.76" y="1258" font-size="20.58" textLength="144.65" lengthAdjust="spacingAndGlyphs" fill="#3730a3" stroke="#3730a3" stroke-width="0.3">TEMPERATURE</text>
<text x="886.29" y="1282" font-size="20.58" textLength="93.11" lengthAdjust="spacingAndGlyphs" fill="#3730a3" stroke="#3730a3" stroke-width="0.3">SENSORS</text>
<rect x="1120" y="1200" width="124" height="124" rx="6" fill="#fff" stroke="#4f46e5" stroke-width="4"/>
<text x="1172.8" y="1270" font-size="25" letter-spacing="-1.25" fill="#000">...</text>
<rect x="1296" y="1142" width="194" height="220" rx="12" fill="#eef2ff" stroke="#3730a3" stroke-width="4"/>
<rect x="1320" y="1194" width="142" height="142" rx="6" fill="#fff" stroke="#4f46e5" stroke-width="4"/>
<text x="1381.8" y="1274" font-size="25" letter-spacing="-1.25" fill="#000">...</text>
<path d="M594,388 H754.1 a4,4 0 0 1 4,4 V648" fill="none" stroke="#000" stroke-width="4"/>
<path d="M536,758.9 H755 a4,4 0 0 0 4,-4 V647" fill="none" stroke="#000" stroke-width="4"/>
<path d="M594,546 H758" fill="none" stroke="#000" stroke-width="4"/>
<path d="M756.1,647.5 H846" fill="none" stroke="#000" stroke-width="5"/>
<path d="M834,660.5 L847,647.5 L834,634.5" fill="none" stroke="#000" stroke-width="4.8" stroke-linecap="round" stroke-linejoin="round"/>
<rect x="680" y="374" width="58" height="28" rx="2.5" fill="#000"/><text x="693.69" y="394" font-size="16.81" textLength="31.38" lengthAdjust="spacingAndGlyphs" fill="#fff" stroke="#fff" stroke-width="0.5">TCP</text>
<rect x="610" y="532" width="128" height="28" rx="2.5" fill="#000"/><text x="621.48" y="552" font-size="16.81" textLength="104.59" lengthAdjust="spacingAndGlyphs" fill="#fff" stroke="#fff" stroke-width="0.5">ETHERNET/IP</text>
<rect x="596" y="746" width="142" height="28" rx="2.5" fill="#000"/><text x="607.66" y="766" font-size="16.81" textLength="117.04" lengthAdjust="spacingAndGlyphs" fill="#fff" stroke="#fff" stroke-width="0.5">MQTT/OPC-UA</text>
<path d="M248,926 V847" fill="none" stroke="#000" stroke-width="4"/>
<path d="M261,858.8 L248,845.8 L235,858.8" fill="none" stroke="#000" stroke-width="4.1" stroke-linecap="round" stroke-linejoin="round"/>
<path d="M470,847 V923" fill="none" stroke="#000" stroke-width="4"/>
<path d="M483,858.8 L470,845.8 L457,858.8" fill="none" stroke="#000" stroke-width="4.1" stroke-linecap="round" stroke-linejoin="round"/>
<path d="M457,910.9 L470,923.9 L483,910.9" fill="none" stroke="#000" stroke-width="4.1" stroke-linecap="round" stroke-linejoin="round"/>
<path d="M330,1074 H402" fill="none" stroke="#000" stroke-width="4"/>
<path d="M390.5,1087 L403.5,1074 L390.5,1061" fill="none" stroke="#000" stroke-width="4.1" stroke-linecap="round" stroke-linejoin="round"/>
<path d="M1036,219 V281" fill="none" stroke="#000" stroke-width="4"/>
<path d="M1049,231 L1036,218 L1023,231" fill="none" stroke="#000" stroke-width="4.1" stroke-linecap="round" stroke-linejoin="round"/>
<path d="M1023,268.8 L1036,281.8 L1049,268.8" fill="none" stroke="#000" stroke-width="4.1" stroke-linecap="round" stroke-linejoin="round"/>
<path d="M1468,219 V281" fill="none" stroke="#000" stroke-width="4"/>
<path d="M1481,231 L1468,218 L1455,231" fill="none" stroke="#000" stroke-width="4.1" stroke-linecap="round" stroke-linejoin="round"/>
<path d="M1455,268.8 L1468,281.8 L1481,268.8" fill="none" stroke="#000" stroke-width="4.1" stroke-linecap="round" stroke-linejoin="round"/>
<path d="M1036,453 V560" fill="none" stroke="#000" stroke-width="4"/>
<path d="M1049,465.4 L1036,452.4 L1023,465.4" fill="none" stroke="#000" stroke-width="4.1" stroke-linecap="round" stroke-linejoin="round"/>
<path d="M1023,548.2 L1036,561.2 L1049,548.2" fill="none" stroke="#000" stroke-width="4.1" stroke-linecap="round" stroke-linejoin="round"/>
<path d="M1550,453 V560" fill="none" stroke="#000" stroke-width="4"/>
<path d="M1563,465.4 L1550,452.4 L1537,465.4" fill="none" stroke="#000" stroke-width="4.1" stroke-linecap="round" stroke-linejoin="round"/>
<path d="M1537,548.2 L1550,561.2 L1563,548.2" fill="none" stroke="#000" stroke-width="4.1" stroke-linecap="round" stroke-linejoin="round"/>
<path d="M952,1128 V951" fill="none" stroke="#000" stroke-width="4"/>
<path d="M965,963 L952,950 L939,963" fill="none" stroke="#000" stroke-width="4.1" stroke-linecap="round" stroke-linejoin="round"/>
<path d="M1084,1128 V951" fill="none" stroke="#000" stroke-width="4"/>
<path d="M1097,963 L1084,950 L1071,963" fill="none" stroke="#000" stroke-width="4.1" stroke-linecap="round" stroke-linejoin="round"/>
<path d="M1391,1128 V1024.5 H1316.75 V950" fill="none" stroke="#000" stroke-width="4" stroke-linejoin="miter"/>
<path d="M1329.75,961.6 L1316.75,948.6 L1303.75,961.6" fill="none" stroke="#000" stroke-width="4.1" stroke-linecap="round" stroke-linejoin="round"/>
<rect x="902" y="1050" width="96" height="28" rx="2.5" fill="#000"/><text x="913.95" y="1070" font-size="16.81" textLength="71.49" lengthAdjust="spacingAndGlyphs" fill="#fff" stroke="#fff" stroke-width="0.5">MODBUS</text>
<rect x="1012" y="1050" width="144" height="28" rx="2.5" fill="#000"/><text x="1023.97" y="1070" font-size="16.81" textLength="118.78" lengthAdjust="spacingAndGlyphs" fill="#fff" stroke="#fff" stroke-width="0.5">MC PROTOCOL</text>
<rect x="1332" y="1064" width="120" height="28" rx="2.5" fill="#000"/><text x="1344.54" y="1084" font-size="16.81" textLength="94.43" lengthAdjust="spacingAndGlyphs" fill="#fff" stroke="#fff" stroke-width="0.5">SIEMENS S7</text>
<rect x="272" y="268" width="166" height="30" rx="4" fill="#3730a3"/><text x="295.46" y="291" font-size="20" textLength="118.43" lengthAdjust="spacingAndGlyphs" fill="#fff" stroke="#fff" stroke-width="0.7">BODY SHOP</text>
<rect x="182" y="314" width="312" height="32" rx="2" fill="#4f46e5"/><text x="193.75" y="337" font-size="20" textLength="287.75" lengthAdjust="spacingAndGlyphs" fill="#fff" stroke="#fff" stroke-width="0.7">ENGINE COMPARTMENT LINE</text>
<rect x="254" y="472" width="168" height="32" rx="2" fill="#4f46e5"/><text x="266.25" y="495" font-size="20" textLength="142.02" lengthAdjust="spacingAndGlyphs" fill="#fff" stroke="#fff" stroke-width="0.7">FACILITY CELL</text>
<rect x="224" y="630" width="276" height="32" rx="2" fill="#4f46e5"/><text x="235.75" y="653" font-size="20" textLength="252.21" lengthAdjust="spacingAndGlyphs" fill="#fff" stroke="#fff" stroke-width="0.7">LASER WELDING SYSTEM</text>
<rect x="1204" y="36" width="96" height="32" rx="4" fill="#1e40af"/><text x="1216.95" y="59" font-size="20" textLength="69.94" lengthAdjust="spacingAndGlyphs" fill="#fff" stroke="#fff" stroke-width="0.7">CLOUD</text>
<rect x="1146" y="270" width="210" height="32" rx="4" fill="#397b7e"/><text x="1158.84" y="293" font-size="20" textLength="183.73" lengthAdjust="spacingAndGlyphs" fill="#fff" stroke="#fff" stroke-width="0.7">COMPANY IT DEPT</text>
<rect x="1206" y="504" width="92" height="32" rx="0" fill="#397b7e"/><text x="1217.93" y="527" font-size="20" textLength="67.15" lengthAdjust="spacingAndGlyphs" fill="#fff" stroke="#fff" stroke-width="0.7">PLANT</text>
<rect x="936" y="1128" width="166" height="30" rx="4" fill="#3730a3"/><text x="957.98" y="1151" font-size="20" textLength="121.48" lengthAdjust="spacingAndGlyphs" fill="#fff" stroke="#fff" stroke-width="0.7">PAINT SHOP</text>
<rect x="878" y="1182" width="94" height="32" rx="2" fill="#4f46e5"/><text x="890.72" y="1205" font-size="20" textLength="68.5" lengthAdjust="spacingAndGlyphs" fill="#fff" stroke="#fff" stroke-width="0.7">OVENS</text>
<rect x="1160" y="1182" width="42" height="32" rx="2" fill="#4f46e5"/>
<text x="1172.05" y="1206" font-size="25" letter-spacing="-1.25" fill="#fff" stroke="#fff" stroke-width="0.5">...</text>
<rect x="1364" y="1128" width="54" height="30" rx="4" fill="#3730a3"/>
<text x="1381.8" y="1151" font-size="25" letter-spacing="-1.25" fill="#fff" stroke="#fff" stroke-width="0.5">...</text>
<rect x="1370" y="1178" width="42" height="32" rx="2" fill="#4f46e5"/>
<text x="1381.8" y="1202" font-size="25" letter-spacing="-1.25" fill="#fff" stroke="#fff" stroke-width="0.5">...</text>
<g transform="translate(506,814)"><g stroke="#dc3e0e" stroke-width="2.3" stroke-linecap="round"><path d="M21.15,1.2 V6 M36.75,1.2 V6 M21.15,52 V56.9 M36.75,52 V56.9 M1.2,21.1 H6 M1.2,36.75 H6 M52,21.1 H56.9 M52,36.75 H56.9"/></g><rect x="7.3" y="7.5" width="42.7" height="43" rx="4.6" fill="#fff" stroke="#dc3e0e" stroke-width="2.5"/><rect x="10.75" y="11" width="36" height="36" rx="2.6" fill="#dc3e0e"/><path transform="translate(10.75,11)" d="M0,18.75 L8.25,18.75 C18.25,18.75 23.25,11.5 36,10.75 L36,17 C28.25,17.5 23.25,20 20.25,21.5 C23.25,23 28.25,26 36,26.5 L36,32.25 C23.25,31.75 18.25,24.5 8.25,24.5 L0,24.5 Z" fill="#fff"/></g>
<g transform="translate(300,1204)"><g stroke="#dc3e0e" stroke-width="2.3" stroke-linecap="round"><path d="M21.15,1.2 V6 M36.75,1.2 V6 M21.15,52 V56.9 M36.75,52 V56.9 M1.2,21.1 H6 M1.2,36.75 H6 M52,21.1 H56.9 M52,36.75 H56.9"/></g><rect x="7.3" y="7.5" width="42.7" height="43" rx="4.6" fill="#fff" stroke="#dc3e0e" stroke-width="2.5"/><rect x="10.75" y="11" width="36" height="36" rx="2.6" fill="#dc3e0e"/><path transform="translate(10.75,11)" d="M0,18.75 L8.25,18.75 C18.25,18.75 23.25,11.5 36,10.75 L36,17 C28.25,17.5 23.25,20 20.25,21.5 C23.25,23 28.25,26 36,26.5 L36,32.25 C23.25,31.75 18.25,24.5 8.25,24.5 L0,24.5 Z" fill="#fff"/></g>
<g transform="translate(560,1204)"><g stroke="#dc3e0e" stroke-width="2.3" stroke-linecap="round"><path d="M21.15,1.2 V6 M36.75,1.2 V6 M21.15,52 V56.9 M36.75,52 V56.9 M1.2,21.1 H6 M1.2,36.75 H6 M52,21.1 H56.9 M52,36.75 H56.9"/></g><rect x="7.3" y="7.5" width="42.7" height="43" rx="4.6" fill="#fff" stroke="#dc3e0e" stroke-width="2.5"/><rect x="10.75" y="11" width="36" height="36" rx="2.6" fill="#dc3e0e"/><path transform="translate(10.75,11)" d="M0,18.75 L8.25,18.75 C18.25,18.75 23.25,11.5 36,10.75 L36,17 C28.25,17.5 23.25,20 20.25,21.5 C23.25,23 28.25,26 36,26.5 L36,32.25 C23.25,31.75 18.25,24.5 8.25,24.5 L0,24.5 Z" fill="#fff"/></g>
<g transform="translate(1162,700)"><g stroke="#dc3e0e" stroke-width="2.3" stroke-linecap="round"><path d="M21.15,1.2 V6 M36.75,1.2 V6 M21.15,52 V56.9 M36.75,52 V56.9 M1.2,21.1 H6 M1.2,36.75 H6 M52,21.1 H56.9 M52,36.75 H56.9"/></g><rect x="7.3" y="7.5" width="42.7" height="43" rx="4.6" fill="#fff" stroke="#dc3e0e" stroke-width="2.5"/><rect x="10.75" y="11" width="36" height="36" rx="2.6" fill="#dc3e0e"/><path transform="translate(10.75,11)" d="M0,18.75 L8.25,18.75 C18.25,18.75 23.25,11.5 36,10.75 L36,17 C28.25,17.5 23.25,20 20.25,21.5 C23.25,23 28.25,26 36,26.5 L36,32.25 C23.25,31.75 18.25,24.5 8.25,24.5 L0,24.5 Z" fill="#fff"/></g>
<g transform="translate(1160,918)"><g stroke="#dc3e0e" stroke-width="2.3" stroke-linecap="round"><path d="M21.15,1.2 V6 M36.75,1.2 V6 M21.15,52 V56.9 M36.75,52 V56.9 M1.2,21.1 H6 M1.2,36.75 H6 M52,21.1 H56.9 M52,36.75 H56.9"/></g><rect x="7.3" y="7.5" width="42.7" height="43" rx="4.6" fill="#fff" stroke="#dc3e0e" stroke-width="2.5"/><rect x="10.75" y="11" width="36" height="36" rx="2.6" fill="#dc3e0e"/><path transform="translate(10.75,11)" d="M0,18.75 L8.25,18.75 C18.25,18.75 23.25,11.5 36,10.75 L36,17 C28.25,17.5 23.25,20 20.25,21.5 C23.25,23 28.25,26 36,26.5 L36,32.25 C23.25,31.75 18.25,24.5 8.25,24.5 L0,24.5 Z" fill="#fff"/></g>
</svg>
</body></html>
